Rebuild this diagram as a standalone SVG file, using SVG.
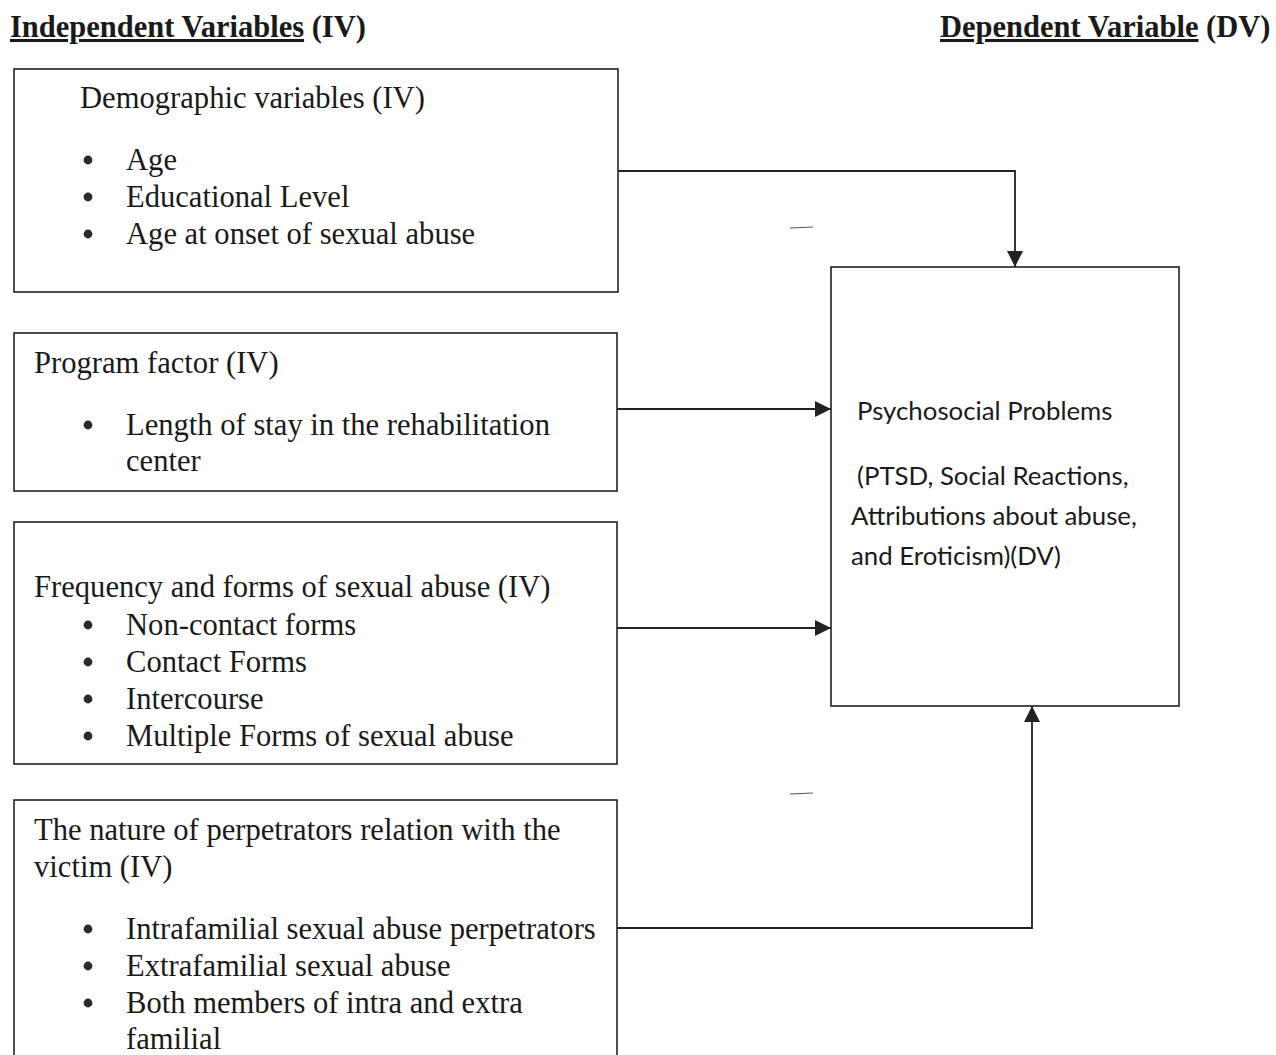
<svg xmlns="http://www.w3.org/2000/svg" width="1276" height="1055" viewBox="0 0 1276 1055">
<style>
  .box { fill: #fff; stroke: #222; stroke-width: 1.6; }
  .t { font-family: "Liberation Serif", "Times New Roman", serif; font-size: 30.6px; fill: #1a1a1a; }
  .h { font-family: "Liberation Serif", "Times New Roman", serif; font-size: 30.5px; font-weight: bold; fill: #1a1a1a; }
  .c { font-family: Lato, "Open Sans", sans-serif; font-size: 25.8px; fill: #1a1a1a; }
  .conn { fill: none; stroke: #222; stroke-width: 1.8; }
  .dot { fill: #2a2a2a; }
</style>
<defs>
  <marker id="arrow" viewBox="0 0 16 16" refX="16" refY="8" markerWidth="16" markerHeight="16" markerUnits="userSpaceOnUse" orient="auto">
    <path d="M0,0 L16,8 L0,16 Z" fill="#222"/>
  </marker>
</defs>
<rect width="1276" height="1055" fill="#fff"/>

<g id="headers">
  <text class="h" x="10" y="37"><tspan text-decoration="underline">Independent Variables</tspan> (IV)</text>
  <text class="h" x="940" y="37"><tspan text-decoration="underline">Dependent Variable</tspan> (DV)</text>
</g>

<g id="node-demographic">
  <rect class="box" x="14" y="69" width="604" height="223"/>
  <text class="t" x="80" y="108">Demographic variables (IV)</text>
  <circle class="dot" cx="88" cy="160" r="4.4"/>
  <text class="t" x="126" y="170">Age</text>
  <circle class="dot" cx="88" cy="197" r="4.4"/>
  <text class="t" x="126" y="207">Educational Level</text>
  <circle class="dot" cx="88" cy="234" r="4.4"/>
  <text class="t" x="126" y="244">Age at onset of sexual abuse</text>
</g>

<g id="node-program">
  <rect class="box" x="14" y="333" width="603" height="158"/>
  <text class="t" x="34" y="373">Program factor (IV)</text>
  <circle class="dot" cx="88" cy="425" r="4.4"/>
  <text class="t" x="126" y="435">Length of stay in the rehabilitation</text>
  <text class="t" x="126" y="471">center</text>
</g>

<g id="node-frequency">
  <rect class="box" x="14" y="522" width="603" height="242"/>
  <text class="t" x="34" y="597">Frequency and forms of sexual abuse (IV)</text>
  <circle class="dot" cx="88" cy="625" r="4.4"/>
  <text class="t" x="126" y="635">Non-contact forms</text>
  <circle class="dot" cx="88" cy="662" r="4.4"/>
  <text class="t" x="126" y="672">Contact Forms</text>
  <circle class="dot" cx="88" cy="699" r="4.4"/>
  <text class="t" x="126" y="709">Intercourse</text>
  <circle class="dot" cx="88" cy="736" r="4.4"/>
  <text class="t" x="126" y="746">Multiple Forms of sexual abuse</text>
</g>

<g id="node-perpetrators">
  <rect class="box" x="14" y="800" width="603" height="270"/>
  <text class="t" x="34" y="840">The nature of perpetrators relation with the</text>
  <text class="t" x="34" y="877">victim (IV)</text>
  <circle class="dot" cx="88" cy="929" r="4.4"/>
  <text class="t" x="126" y="939">Intrafamilial sexual abuse perpetrators</text>
  <circle class="dot" cx="88" cy="966" r="4.4"/>
  <text class="t" x="126" y="976">Extrafamilial sexual abuse</text>
  <circle class="dot" cx="88" cy="1003" r="4.4"/>
  <text class="t" x="126" y="1013">Both members of intra and extra</text>
  <text class="t" x="126" y="1049">familial</text>
</g>

<g id="node-dv">
  <rect class="box" x="831" y="267" width="348" height="439"/>
  <text class="c" x="857" y="420">Psychosocial Problems</text>
  <text class="c" x="857" y="485">(PTSD, Social Reactions,</text>
  <text class="c" x="851" y="525">Attributions about abuse,</text>
  <text class="c" x="851" y="565">and Eroticism)(DV)</text>
</g>

<g id="connectors">
  <polyline class="conn" points="618,171 1015,171 1015,267" marker-end="url(#arrow)"/>
  <line class="conn" x1="617" y1="409" x2="831" y2="409" marker-end="url(#arrow)"/>
  <line class="conn" x1="617" y1="628" x2="831" y2="628" marker-end="url(#arrow)"/>
  <polyline class="conn" points="617,928 1032,928 1032,706" marker-end="url(#arrow)"/>
</g>

<g id="marks">
  <line x1="790" y1="228" x2="813" y2="227" stroke="#555" stroke-width="1"/>
  <line x1="790" y1="794" x2="813" y2="793" stroke="#555" stroke-width="1"/>
</g>
</svg>
